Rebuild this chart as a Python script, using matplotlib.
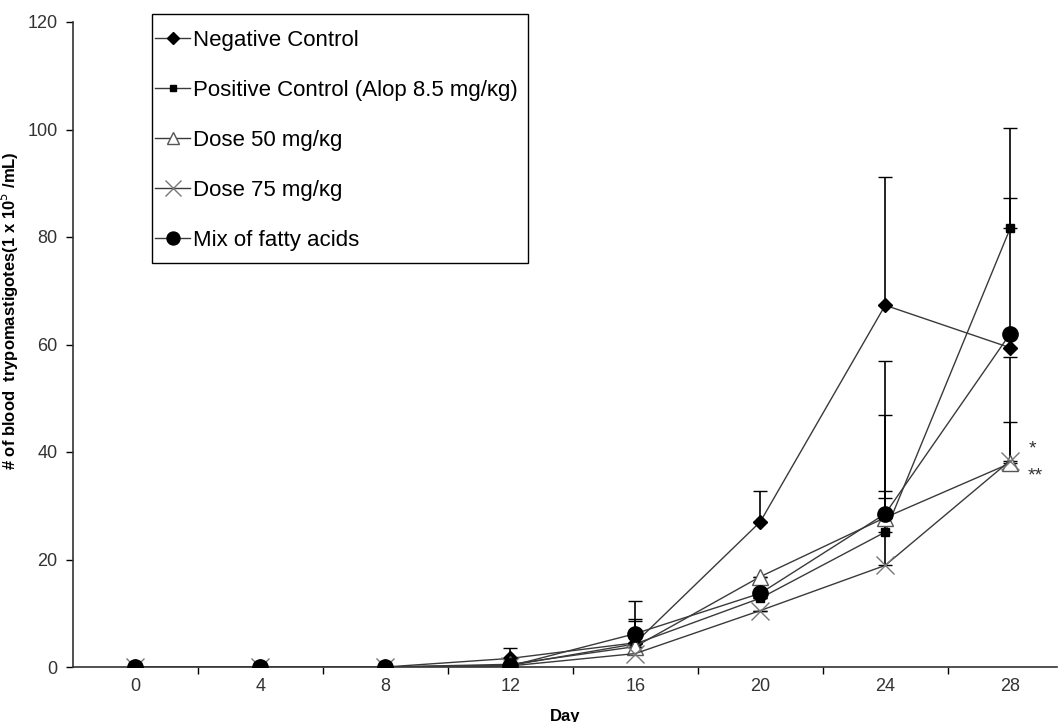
import matplotlib
matplotlib.use("Agg")
import matplotlib.pyplot as plt
from matplotlib.patches import Rectangle

plt.rcParams['font.family'] = ['Liberation Sans', 'DejaVu Sans']

days = [0, 4, 8, 12, 16, 20, 24, 28]

neg_ctrl = [0, 0, 0, 1.6, 4.5, 27.0, 67.3, 59.4]
pos_ctrl = [0, 0, 0, 0.3, 4.3, 12.8, 25.1, 81.6]
dose50 = [0, 0, 0, 0.5, 3.8, 16.8, 27.8, 37.9]
dose75 = [0, 0, 0, 0.2, 2.5, 10.5, 18.9, 38.4]
mix_fa = [0, 0, 0, 0.2, 6.2, 13.7, 28.5, 62.0]

# upper error bars only
neg_err = [0, 0, 0, 1.9, 7.8, 5.7, 23.9, 27.9]
pos_err = [0, 0, 0, 0, 4.6, 0, 31.9, 18.6]
dose50_err = [0, 0, 0, 0, 0, 0, 4.9, 19.7]
dose75_err = [0, 0, 0, 0, 0, 0, 12.5, 7.1]
mix_err = [0, 0, 0, 0, 2.3, 0, 18.3, 0]

labels = ["Negative Control", "Positive Control (Alop 8.5 mg/\u03bag)",
          "Dose 50 mg/\u03bag", "Dose 75 mg/\u03bag", "Mix of fatty acids"]

fig = plt.figure(figsize=(10.6, 7.22), dpi=100)
ax = fig.add_axes([73/1060, 1-667/722, (1057-73)/1060, (667-22)/722])

lc = '#3a3a3a'
series = [
    (neg_ctrl, neg_err, dict(marker='D', ms=7, mfc='black', mec='black')),
    (pos_ctrl, pos_err, dict(marker='s', ms=5.5, mfc='black', mec='black')),
    (dose50, dose50_err, dict(marker='^', ms=11, mfc='white', mec='#555555', mew=1.0)),
    (dose75, dose75_err, dict(marker='x', ms=13, mfc='none', mec='#777777', mew=1.0)),
    (mix_fa, mix_err, dict(marker='o', ms=11, mfc='black', mec='black')),
]

handles = []
for (vals, err, mk), lab in zip(series, labels):
    ax.errorbar(days, vals, yerr=[[0]*len(err), err], fmt='none',
                ecolor='black', elinewidth=1.2, capsize=5, capthick=1.0, zorder=2)
    h, = ax.plot(days, vals, color=lc, lw=1.0, label=lab, zorder=3, **mk)
    handles.append(h)

ax.set_xlim(-2, 29.5)
ax.set_ylim(0, 120)
ax.set_yticks(range(0, 121, 20))
ax.set_xticks(days)
ax.set_xticks(range(2, 27, 4), minor=True)
ax.tick_params(axis='x', which='major', length=0, pad=8, labelsize=13, labelcolor='#333333')
ax.tick_params(axis='x', which='minor', length=5, direction='out', width=1)
ax.tick_params(axis='y', length=5, direction='out', width=1, pad=6, labelsize=13,
               labelcolor='#333333')
for s in ['top', 'right']:
    ax.spines[s].set_visible(False)
for s in ['left', 'bottom']:
    ax.spines[s].set_color('#333333')
    ax.spines[s].set_linewidth(1.2)

ax.set_xlabel("Day", fontsize=12, fontweight='bold', labelpad=10)
ax.set_ylabel("# of blood  trypomastigotes(1 x 10$^5$ /mL)", fontsize=12,
              fontweight='bold')
ax.yaxis.set_label_coords((21-73)/984, (667-311)/645)

ax.text(28.6, 40.5, "*", fontsize=14, color='#333333', ha='left', va='center')
ax.text(28.55, 35.5, "**", fontsize=14, color='#333333', ha='left', va='center')

leg = ax.legend(handles=handles, loc='upper left',
                bbox_to_anchor=(155/1060, 1-30/722), bbox_transform=fig.transFigure,
                borderaxespad=0, borderpad=0, fontsize=16, frameon=False,
                handlelength=1.58, handletextpad=0.14, labelspacing=1.3,
                markerscale=0.85)
fig.patches.append(Rectangle((152/1060, 1-263/722), (528-152)/1060, (263-14)/722,
                             transform=fig.transFigure, fill=False,
                             ec='black', lw=1.0))

fig.savefig("out.png", dpi=100)
